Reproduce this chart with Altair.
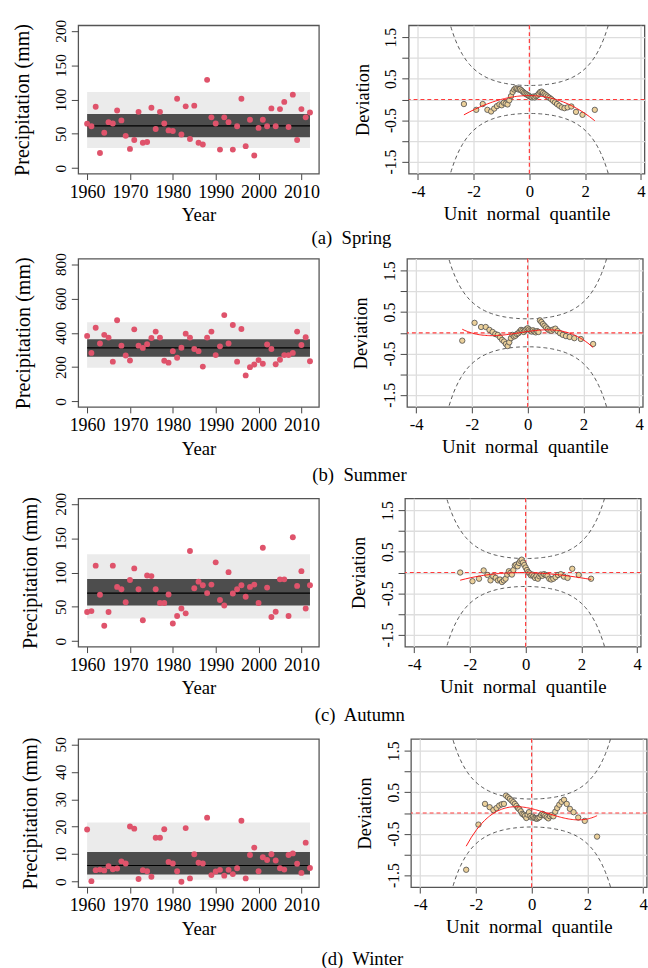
import altair as alt
import pandas as pd

FONT = "Liberation Serif"
years = list(range(1960, 2013))

# Seasonal precipitation (mm), 1960-2012
spring = [64.8, 61, 89.4, 22, 51.5, 67, 65, 84, 69.5, 47, 28, 41, 82, 37, 38, 88, 57, 82, 65, 55,
          54, 101, 49, 90, 42.5, 91, 37, 34.5, 128.6, 74, 65, 27, 74, 67, 27, 61, 101, 32, 70.5, 18.4,
          58.6, 70.5, 61, 87, 61, 86, 96.5, 60, 107, 41, 86, 74, 81]
summer = [382, 283, 429, 338, 388, 372, 232, 473, 325, 268, 239, 420, 325, 312, 334, 370, 407, 372, 237, 226,
          293, 255, 313, 395, 372, 306, 293, 203, 372, 407, 270, 321, 503, 338, 445, 232, 422, 152, 200, 215,
          241, 220, 332, 306, 217, 243, 270, 270, 283, 407, 329, 374, 234]
autumn = [42.4, 43.8, 110, 67.6, 22.4, 42.4, 110, 79, 75.7, 56.7, 89, 106, 75.7, 30.5, 95.7, 94.8, 75.7, 55.7, 55.7, 68,
          25.7, 36.7, 47.6, 40.5, 131.4, 77, 86.7, 81.4, 70, 82.4, 114.8, 60, 52, 100.5, 69.5, 75.7, 81.4, 64.8, 79, 82.4,
          55.7, 136, 78, 35.2, 42.9, 90, 90, 36.7, 151.4, 80.5, 102, 47.6, 81.4]
winter = [19, 0.2, 4.2, 4.4, 4.1, 5.6, 4.5, 4.8, 7.4, 6.6, 20.1, 19.3, 1, 4.2, 3.8, 1.8, 16, 16, 19.1, 7.2,
          6.6, 3.8, 0, 19.5, 1.2, 10, 6.9, 6.6, 23.3, 2.4, 3.7, 4.3, 2.2, 4.3, 2.75, 4.9, 22.2, 1.2, 9.7, 12.4,
          3.8, 8.9, 7.9, 10, 7.7, 4.9, 4.4, 9.7, 10.3, 6.5, 3.2, 14.2, 5]

# Bands: outer low, inner low, median, inner high, outer high
spring_band = [29.3, 45, 61.5, 79, 111]
summer_band = [196, 260, 312, 363, 462]
autumn_band = [32.9, 52, 70, 90.5, 126.7]
winter_band = [0.7, 2.6, 5.9, 10.8, 21.5]

# Worm-plot deviations, ordered by theoretical quantile
spring_wp = [-0.11, -0.25, -0.11, -0.25, -0.29, -0.22, -0.16, -0.12, -0.14, -0.08, -0.10, -0.12, -0.02, 0.08, 0.18,
             0.24, 0.27, 0.26, 0.24, 0.25, 0.22, 0.19, 0.16, 0.14, 0.12, 0.10, 0.08,
             0.06, 0.05, 0.07, 0.05, 0.08, 0.10, 0.14, 0.18, 0.19, 0.16, 0.13, 0.10, 0.07, 0.04, 0.01,
             -0.03, -0.07, -0.11, -0.15, -0.19, -0.21, -0.19, -0.17, -0.30, -0.37, -0.25]
summer_wp = [-0.19, 0.24, 0.14, 0.14, 0.07, 0.02, -0.03, -0.05, -0.11, -0.17, -0.21, -0.27, -0.32, -0.23, -0.13,
             -0.05, -0.09, -0.07, -0.03, -0.01, 0.03, 0.07, 0.05, 0.02, 0.06, 0.09, 0.11,
             0.08, 0.05, 0.03, 0.06, 0.03, 0.01, 0.04, 0.02, 0.30, 0.26, 0.21, 0.17, 0.13, 0.09, 0.06,
             0.05, 0.08, 0.10, 0.04, -0.01, -0.05, -0.08, -0.10, -0.13, -0.15, -0.27]
autumn_wp = [0.00, -0.21, -0.15, 0.05, -0.06, -0.19, -0.09, -0.13, -0.19, -0.17, -0.23, -0.19, -0.15, -0.05, 0.03,
             -0.01, -0.05, 0.06, 0.17, 0.19, 0.15, 0.23, 0.28, 0.31, 0.24, 0.18, 0.12,
             0.06, 0.01, -0.02, -0.07, -0.05, -0.09, -0.13, -0.09, -0.15, -0.09, -0.05, -0.08, -0.04, -0.06, -0.08,
             -0.15, -0.17, -0.15, -0.11, -0.06, -0.04, -0.10, -0.13, 0.09, -0.06, -0.15]
winter_wp = [-1.37, -0.28, 0.22, 0.14, 0.07, 0.12, 0.18, 0.21, 0.22, 0.42, 0.38, 0.34, 0.30, 0.26, 0.22,
             0.17, 0.12, 0.09, 0.04, -0.02, -0.04, -0.07, -0.12, -0.04, 0.02, -0.07, -0.11,
             -0.09, -0.12, -0.13, -0.14, -0.12, -0.10, -0.05, -0.02, -0.04, -0.07, -0.10, -0.13, -0.08, -0.05, -0.08,
             0.03, 0.12, 0.20, 0.27, 0.32, 0.22, 0.10, 0.02, -0.11, -0.19, -0.57]

captions = ["(a)\u00a0 Spring", "(b)\u00a0 Summer", "(c)\u00a0 Autumn", "(d)\u00a0 Winter"]
series = [spring, summer, autumn, winter]
bands = [spring_band, summer_band, autumn_band, winter_band]
worms = [spring_wp, summer_wp, autumn_wp, winter_wp]
ymaxs = [200, 800, 200, 50]
ystep = [50, 200, 50, 10]

# layout (pixels)
PAD_LEFT, PAD_TOP = 11.6, 10
LW, RW, PH = 245, 240, 151
ytitle_pad = [19.7, 18.7, 11.0, 11.7]      # shifts the left plot of each row
hspace = [32.4, 30.7, 28.6, 34.7]          # gap before the right panel's axis
vspace = [3.5, 6.0, 9.8]                   # gaps between rows
cap_dx = [23, 31.5, 29, 29]
cap_off = [4, 7.5, 8.5, 11.5]

MINUS = "replace(datum.label, '\u2212', '-')"


def left_panel(vals, band, ymax, step, tpad):
    df = pd.DataFrame({"Year": years, "P": vals})
    bdf = pd.DataFrame({"x0": [years[0]], "x1": [years[-1]],
                        "lo_o": [band[0]], "lo_i": [band[1]], "med": [band[2]],
                        "hi_i": [band[3]], "hi_o": [band[4]]})
    span = years[-1] - years[0]
    xs = alt.Scale(domain=[years[0] - 0.04 * span, years[-1] + 0.04 * span], nice=False, zero=False)
    ys = alt.Scale(domain=[-0.04 * ymax, 1.04 * ymax], nice=False, zero=False)
    xax = alt.Axis(values=list(range(1960, 2011, 10)), format="d", title="Year",
                   labelFontSize=18.3, titleFontSize=19, grid=False, tickSize=6,
                   labelPadding=4, titlePadding=8, labelOverlap=False, minExtent=25, maxExtent=25)
    yax = alt.Axis(values=list(range(0, ymax + 1, step)), title="Precipitation (mm)",
                   labelFontSize=15.5, titleFontSize=20.4, grid=False, tickSize=7,
                   labelAngle=270, labelAlign="center", labelBaseline="bottom",
                   labelPadding=3, titlePadding=tpad, labelOverlap=False, minExtent=27, maxExtent=27)

    def X(f):
        return alt.X(f, scale=xs, axis=xax)

    def Y(f):
        return alt.Y(f, scale=ys, axis=yax)

    outer = alt.Chart(bdf).mark_rect(color="#EBEBEB").encode(x=X("x0:Q"), x2="x1:Q", y=Y("lo_o:Q"), y2="hi_o:Q")
    inner = alt.Chart(bdf).mark_rect(color="#4D4D4D").encode(x=X("x0:Q"), x2="x1:Q", y=Y("lo_i:Q"), y2="hi_i:Q")
    med = alt.Chart(bdf).mark_rule(color="black", strokeWidth=1.2).encode(x=X("x0:Q"), x2="x1:Q", y=Y("med:Q"))
    pts = alt.Chart(df).mark_circle(color="#DF536B", opacity=1, size=36).encode(x=X("Year:Q"), y=Y("P:Q"))
    return alt.layer(outer, inner, med, pts).properties(width=LW, height=PH)


def right_panel(wp):
    df = pd.DataFrame({"idx": list(range(1, len(wp) + 1)), "dev": wp})
    xs = alt.Scale(domain=[-4.33, 4.13], nice=False, zero=False)
    ys = alt.Scale(domain=[-1.79, 1.79], nice=False, zero=False)
    xax = alt.Axis(values=[-4, -2, 0, 2, 4], title="Unit\u00a0 normal\u00a0 quantile",
                   labelExpr=MINUS, labelFontSize=17, titleFontSize=19.2, grid=True,
                   gridColor="#DDDDDD", gridWidth=1.3, tickSize=6, labelPadding=4, titlePadding=6.5,
                   minExtent=25, maxExtent=25)
    yax = alt.Axis(values=[-1.5, -1, -0.5, 0, 0.5, 1, 1.5], title="Deviation",
                   labelExpr="(abs(datum.value) == 0.5 || abs(datum.value) == 1.5) ? " + MINUS + " : ''",
                   labelFontSize=16, titleFontSize=18.6, grid=True, gridColor="#DDDDDD", gridWidth=1.3,
                   tickSize=7, labelAngle=270, labelAlign="center", labelBaseline="bottom",
                   labelPadding=3, titlePadding=9, labelOverlap=False, minExtent=28, maxExtent=28)

    def X(f):
        return alt.X(f, scale=xs, axis=xax)

    def Y(f):
        return alt.Y(f, scale=ys, axis=yax)

    n = len(wp)
    ci = (alt.Chart(alt.sequence(-3.5, 3.501, 0.05, as_="z"))
          .transform_calculate(p="cumulativeNormal(datum.z)")
          .transform_calculate(se=f"sqrt(datum.p * (1 - datum.p) / {n}) / densityNormal(datum.z)")
          .transform_calculate(hi="1.959964 * datum.se", lo="-1.959964 * datum.se")
          .transform_fold(["hi", "lo"], as_=["band", "v"])
          .mark_line(color="#555555", strokeDash=[4, 3], strokeWidth=1, clip=True)
          .encode(x=X("z:Q"), y=Y("v:Q"), detail="band:N"))
    zero = pd.DataFrame({"z": [0]})
    vline = alt.Chart(zero).mark_rule(color="#FF3B3B", strokeDash=[4, 3], strokeWidth=1.2).encode(x=X("z:Q"))
    hline = alt.Chart(zero).mark_rule(color="#FF3B3B", strokeDash=[4, 3], strokeWidth=1.2).encode(y=Y("z:Q"))
    base = (alt.Chart(df)
            .transform_joinaggregate(n="count()")
            .transform_calculate(q="quantileNormal((datum.idx - 0.5) / datum.n)"))
    pts = base.mark_circle(fill="#EBD09A", stroke="#4A4A4A", strokeWidth=0.8, size=30, opacity=1,
                           fillOpacity=1).encode(x=X("q:Q"), y=Y("dev:Q"))
    fit = (base.transform_regression("q", "dev", method="poly", order=3)
           .mark_line(color="#FF1A1A", strokeWidth=1, clip=True)
           .encode(x=X("q:Q"), y=Y("dev:Q")))
    return alt.layer(ci, vline, hline, pts, fit).properties(width=RW, height=PH)


rows = []
for i in range(4):
    row = alt.hconcat(
        left_panel(series[i], bands[i], ymaxs[i], ystep[i], ytitle_pad[i]),
        right_panel(worms[i]),
        spacing=hspace[i],
    ).properties(title=alt.TitleParams(captions[i], orient="bottom", anchor="middle",
                                       dx=cap_dx[i], offset=cap_off[i],
                                       fontSize=19, font=FONT, fontWeight="normal", color="black"))
    rows.append(row)

lower = alt.vconcat(rows[2], rows[3], spacing=vspace[2])
middle = alt.vconcat(rows[1], lower, spacing=vspace[1])
chart = (alt.vconcat(rows[0], middle, spacing=vspace[0])
         .properties(padding={"left": PAD_LEFT, "top": PAD_TOP, "right": 0, "bottom": 0}, background="white")
         .configure_axis(labelFont=FONT, titleFont=FONT, titleFontWeight="normal", labelColor="black",
                         titleColor="black", tickColor="#444444", domain=False)
         .configure_view(stroke="#555555", strokeWidth=1.3)
         .configure_title(font=FONT, fontWeight="normal"))

chart.save("out.html", embed_options={"renderer": "svg", "actions": False})
